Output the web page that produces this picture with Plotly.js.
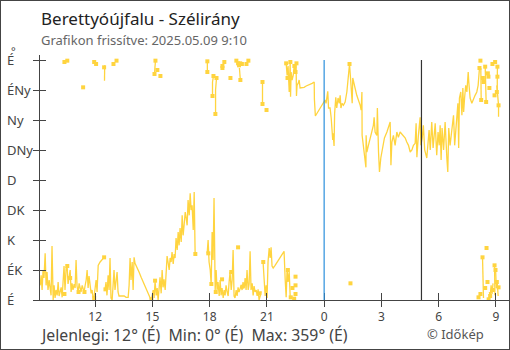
<!DOCTYPE html>
<html>
<head>
<meta charset="utf-8">
<script src="https://cdn.plot.ly/plotly-3.0.1.min.js"></script>
<style>
  html, body { margin: 0; padding: 0; background: #fff; }
  #wrap { position: relative; width: 510px; height: 350px; }
  #chart { position: absolute; left: 0; top: 0; width: 510px; height: 350px; }
  #frame { position: absolute; left: 0; top: 0; width: 510px; height: 350px; box-sizing: border-box; border: 1px solid #444; pointer-events: none; }
</style>
</head>
<body>
<div id="wrap"><div id="chart"></div><div id="frame"></div></div>
<script>
// ---- Data: time in hours relative to midnight (negative = previous day), wind direction in degrees ----
const titleText = 'Berettyóújfalu - Szélirány';
const subtitleText = 'Grafikon frissítve: 2025.05.09 9:10';
const footerText = 'Jelenlegi: 12° (É)  Min: 0° (É)  Max: 359° (É)';
const creditText = '© Időkép';

const xTickVals = [-12, -9, -6, -3, 0, 3, 6, 9];
const xTickText = ['12', '15', '18', '21', '0', '3', '6', '9'];
const yTickVals = [0, 45, 90, 135, 180, 225, 270, 315, 360];
const yTickText = ['É', 'ÉK', 'K', 'DK', 'D', 'DNy', 'Ny', 'ÉNy', 'É'];

const midnightHour = 0;
const sunriseHour = 5.1;

// lower band (near north, 0..)
const lowT1 = [-14.88,-14.83,-14.78,-14.73,-14.68,-14.62,-14.57,-14.52,-14.47,-14.41,-14.36,-14.31,-14.26,-14.20,-14.15,-14.10,-14.05,-13.99,-13.94,-13.89,-13.84,-13.78,-13.73,-13.68,-13.63,-13.58,-13.52,-13.47,-13.42,-13.37,-13.31,-13.26,-13.21,-13.16,-13.10,-13.05,-13.00,-12.95,-12.89,-12.84,-12.79,-12.74,-12.68,-12.63,-12.58,-12.53,-12.47,-12.42,-12.37,-12.32,-12.26,-12.21,-12.16,-12.11,-12.05,-12.00,-11.95,-11.90,-11.84,-11.74,-11.64,-11.53];
const lowD1 = [22,37,15,45,33,70,22,42,15,30,18,7,81,0,22,3,15,7,27,6,12,19,4,30,51,15,48,51,24,33,45,12,25,15,24,18,60,21,12,25,18,12,22,15,12,21,30,45,18,36,21,10,15,3,6,18,30,12,52,57,61,64];

const lowT2 = [-11.48,-11.43,-11.38,-11.32,-11.27,-11.22,-11.17,-11.11,-11.06,-11.01,-10.96,-10.90,-10.85,-10.80,-10.75,-10.69,-10.59,-10.48,-10.38,-10.27,-10.22,-10.17,-10.12,-10.06,-10.01,-9.96,-9.91,-9.80,-9.70,-9.59,-9.49,-9.38,-9.28,-9.17,-9.12,-9.07,-9.01,-8.96,-8.91,-8.86,-8.80,-8.75,-8.70,-8.65,-8.60,-8.54,-8.49,-8.44,-8.39,-8.33,-8.28,-8.23,-8.18,-8.12,-8.07,-8.02,-7.97,-7.91,-7.86,-7.81,-7.76,-7.70,-7.65,-7.60,-7.55,-7.49,-7.44,-7.39,-7.34,-7.28,-7.23,-7.18,-7.13,-7.07,-7.02,-6.97,-6.92,-6.86,-6.81,-6.76];
const lowD2 = [16,27,7,37,15,63,3,0,22,45,15,30,42,12,6,6,6,6,4,4,22,63,30,57,15,64,55,49,42,34,27,19,12,6,1,0,6,15,3,28,7,18,0,22,34,10,45,19,31,15,48,66,57,45,63,57,72,54,69,63,93,75,102,82,108,87,127,97,112,132,123,112,150,127,160,135,142,105,162,69];

const lowT3 = [-6.13,-6.08,-6.03,-5.97,-5.92,-5.87,-5.82,-5.77,-5.71,-5.66,-5.61,-5.56,-5.50,-5.45,-5.40,-5.35,-5.29,-5.24,-5.19,-5.14,-5.08,-5.03,-4.98,-4.93,-4.87,-4.82,-4.77,-4.72,-4.67,-4.61,-4.56,-4.51,-4.46,-4.40,-4.35,-4.30,-4.25,-4.19,-4.14,-4.09,-4.04,-3.98,-3.93,-3.88,-3.83,-3.77,-3.72,-3.67,-3.62,-3.56,-3.51,-3.46,-3.41,-3.35,-3.30];
const lowD3 = [70,90,57,45,24,102,60,153,15,45,15,27,6,30,7,18,3,15,7,22,12,6,27,42,15,30,75,6,3,15,6,19,12,16,22,15,27,18,33,15,45,15,24,73,15,25,7,21,12,15,6,16,0,6,13];

const lowT4 = [-3.20,-3.14,-3.09,-3.04,-2.99,-2.94,-2.88,-2.83,-2.78,-2.73,-2.67,-2.57,-2.46,-2.36,-2.25,-2.15,-2.10,-2.04,-1.99,-1.94,-1.89,-1.83,-1.78];
const lowD4 = [57,15,6,22,3,57,78,63,79,51,48,52,57,61,66,70,73,30,4,48,27,42,6];

const lowT5 = [8.30,8.33,8.35, null, 8.93,8.95, null, 8.99,9.02,9.07,9.12, null, 8.66,8.70,8.75,8.80,8.85];
const lowD5 = [64,42,3, null, 52,7, null, 42,18,27,6, null, 12,4,22,9,25];

// upper band (near north, ..360)
const upT1 = [-11.50,-11.52,-11.51, null, -8.84,-8.87,-8.89, null, -6.12,-6.12, null, -5.80,-5.85,-5.85, null, -5.64,-5.69,-5.69, null, -4.44,-4.42,-4.39, null, -3.23,-3.23];
const upD1 = [352,339,329, null, 359,348,339, null, 358,342, null, 336,327,306, null, 333,315,279, null, 348,340,330, null, 327,294];

const upT2 = [-1.99,-1.94,-1.89,-1.83,-1.78,-1.76,-1.73,-1.68,-1.62,-1.57,-1.52,-1.47,-1.45,-1.42,-1.36,-1.31,-1.26,-1.15,-1.05,-0.94,-0.84,-0.73,-0.63,-0.52,-0.51,-0.46,-0.37,-0.26,-0.16,-0.05,0.05,0.10,0.19,0.23,0.31,0.37,0.40,0.45,0.47,0.52,0.55,0.58,0.61,0.66,0.73,0.79,0.84,0.88,0.94,1.01,1.10,1.19,1.24,1.31,1.33,1.39,1.43,1.47,1.50,1.57,1.62,1.71,1.80,1.89,1.94,1.98,1.99,2.06,2.13,2.19,2.20,2.24,2.32,2.41,2.50,2.58,2.62,2.67,2.76,2.79,2.85,2.90,2.97,3.08,3.16,3.29,3.37,3.46,3.50,3.55,3.63,3.72,3.81,3.89,3.98,4.07,4.16,4.25,4.33,4.42,4.51,4.60,4.68,4.77,4.82,4.86,4.94,5.03,5.07,5.14,5.20,5.27,5.38,5.45,5.50,5.56,5.64,5.71,5.77,5.82,5.90,5.97,6.03,6.08,6.13,6.18,6.26,6.34,6.43,6.48,6.53,6.60,6.68,6.78,6.84,6.92,7.01,7.05,7.09,7.16,7.22,7.27,7.31,7.36,7.42,7.48,7.55,7.58,7.65,7.74,7.83,7.91,8.00,8.07,8.14];
const upD2 = [355,337,351,312,357,305,342,330,337,351,342,355,306,322,325,330,318,318,319,321,322,324,325,327,301,276,280,285,289,294,300,295,313,288,288,273,258,240,250,231,280,289,304,288,303,295,307,288,295,292,297,312,327,345,354,330,318,295,333,322,318,307,300,292,285,312,247,232,213,199,247,222,232,243,252,262,274,252,247,288,222,192,213,232,243,252,259,267,202,237,247,232,252,244,252,249,246,243,237,232,222,225,232,235,265,214,247,274,232,243,262,225,213,240,255,225,267,228,258,265,217,252,232,262,210,258,225,267,213,192,258,232,252,277,232,267,295,228,303,312,277,318,282,303,322,312,342,327,303,295,303,307,312,322,348];

const upT3 = [8.21,8.23, null, 8.44,8.47,8.49, null, 9.05,9.10,9.14,9.14, null, 9.08,9.08,9.07];
const upD3 = [348,300, null, 350,318,297, null, 322,305,292,275, null, 350,335,312];

// isolated readings (drawn as small squares)
const markT = [-13.61,-13.46,-13.31,-12.87,-12.56,-12.05,-11.53,-11.46,-9.05,-8.86,-6.75,-6.07,-5.91,-5.68,-5.35,-4.87,-4.51,-4.28,-3.39,-3.19,-1.90,-1.66,-1.50,-1.50,-1.50,-1.57,-1.75,1.38,8.51,8.30,8.93,8.98,8.56,8.44,8.19,8.09,9.14,9.05,8.84,8.70,8.62,
  -13.61,-13.46,-12.63,-12.05,-11.95,-11.53,-11.04,-10.88,-8.84,-8.74,-8.58,-8.89,-6.12,-6.12,-5.80,-5.85,-5.64,-5.70,-5.23,-5.33,-5.33,-4.91,-4.60,-4.51,-4.46,-4.40,-4.31,-4.39,-4.07,-3.97,-3.23,-3.23,-3.02,-1.99,-1.77,-1.92,-1.56,-1.50,-1.45,1.33,8.14,8.19,8.23,8.32,8.35,8.44,8.49,8.58,8.61,8.66,8.82,8.96,8.93,9.08,9.08,9.05,9.14];
const markD = [9,51,33,12,12,3,64,16,1,29,69,70,24,12,31,42,79,20,10,57,45,18,35,22,9,2,4,25,78,64,52,45,27,18,9,4,19,27,15,6,1,
  357,359,319,357,354,349,354,359,359,345,336,339,358,342,336,306,333,279,357,351,348,333,359,355,352,355,354,330,354,359,327,294,285,355,357,333,351,342,355,354,348,359,300,333,327,350,297,340,335,318,354,357,307,350,335,312,292];

// ---- build traces ----
const GOLD = '#FFD43F';
function joinSegs(list) {
  const x = [], y = [];
  list.forEach((s, i) => {
    if (i > 0) { x.push(null); y.push(null); }
    s[0].forEach((v, j) => { x.push(v); y.push(s[1][j]); });
  });
  return { x, y };
}
const segs = joinSegs([[lowT1, lowD1], [lowT2, lowD2], [lowT3, lowD3], [lowT4, lowD4], [lowT5, lowD5], [upT1, upD1], [upT2, upD2], [upT3, upD3]]);

const traces = [
  { x: segs.x, y: segs.y, type: 'scatter', mode: 'lines', connectgaps: false,
    line: { color: GOLD, width: 1.3 }, hoverinfo: 'skip', showlegend: false },
  { x: markT, y: markD, type: 'scatter', mode: 'markers',
    marker: { color: GOLD, size: 4, symbol: 'square', line: { width: 0 } }, hoverinfo: 'skip', showlegend: false },
  { x: [0], y: [0], xaxis: 'x2', yaxis: 'y2', type: 'scatter', mode: 'markers',
    marker: { opacity: 0 }, hoverinfo: 'skip', showlegend: false }
];

const FONT = 'Noto Sans, Open Sans, sans-serif';
const XR = [-14.89, 9.74];
const YR = [0, 367.5];
const AX = '#444';

const annotations = [];
yTickVals.forEach((v, i) => {
  annotations.push({ xref: 'paper', yref: 'y', x: 0, y: v, xanchor: 'left', yanchor: 'middle', xshift: -35,
    text: yTickText[i], showarrow: false, font: { family: FONT, size: 13, color: '#444' } });
});
annotations.push({ xref: 'paper', yref: 'paper', x: 0, y: 1, xanchor: 'left', yanchor: 'middle', xshift: -31, yshift: 5,
  text: '°', showarrow: false, font: { family: FONT, size: 11, color: '#444' } });
annotations.push({ xref: 'paper', yref: 'paper', x: 0, y: 1, xanchor: 'left', yanchor: 'middle', xshift: -1, yshift: 37,
  text: titleText, showarrow: false, font: { family: FONT, size: 17, color: '#222' } });
annotations.push({ xref: 'paper', yref: 'paper', x: 0, y: 1, xanchor: 'left', yanchor: 'middle', xshift: -1, yshift: 15,
  text: subtitleText, showarrow: false, font: { family: FONT, size: 13, color: '#666' } });
annotations.push({ xref: 'paper', yref: 'paper', x: 0, y: 0, xanchor: 'left', yanchor: 'middle', xshift: -2, yshift: -35,
  text: footerText, showarrow: false, font: { family: FONT, size: 15.8, color: '#444' } });
annotations.push({ xref: 'paper', yref: 'paper', x: 0.819, y: 0, xanchor: 'left', yanchor: 'middle', yshift: -34,
  text: creditText, showarrow: false, font: { family: FONT, size: 13, color: '#555' } });

const shapes = [
  { type: 'line', xref: 'x', yref: 'y', x0: midnightHour, x1: midnightHour, y0: 0, y1: 360, line: { color: '#2a8fdc', width: 1.2 }, layer: 'above' },
  { type: 'line', xref: 'x', yref: 'y', x0: sunriseHour, x1: sunriseHour, y0: 0, y1: 360, line: { color: '#333', width: 1.2 }, layer: 'above' }
];

const layout = {
  width: 510, height: 350,
  margin: { l: 40, r: 0, t: 55, b: 50, pad: 0 },
  paper_bgcolor: '#fff', plot_bgcolor: '#fff',
  showlegend: false,
  font: { family: FONT, color: AX },
  xaxis: { range: XR, tickvals: xTickVals, ticktext: xTickText, ticks: 'outside', ticklen: 6, tickwidth: 1, tickcolor: AX,
    showline: true, linecolor: AX, linewidth: 1, showgrid: false, zeroline: false, fixedrange: true,
    tickfont: { family: FONT, size: 12, color: '#444' } },
  xaxis2: { overlaying: 'x', anchor: 'y', side: 'bottom', range: XR, tickvals: xTickVals, ticks: 'inside', ticklen: 7, tickwidth: 1, tickcolor: AX,
    showticklabels: false, showline: false, showgrid: false, zeroline: false, fixedrange: true },
  yaxis: { range: YR, tickvals: yTickVals, showticklabels: false, ticks: 'outside', ticklen: 6, tickwidth: 1, tickcolor: AX,
    showline: true, linecolor: AX, linewidth: 1, showgrid: false, zeroline: false, fixedrange: true },
  yaxis2: { overlaying: 'y', anchor: 'x', side: 'left', range: YR, tickvals: yTickVals, ticks: 'inside', ticklen: 6, tickwidth: 1, tickcolor: AX,
    showticklabels: false, showline: false, showgrid: false, zeroline: false, fixedrange: true },
  annotations: annotations,
  shapes: shapes
};

Plotly.newPlot('chart', traces, layout, { staticPlot: true, displayModeBar: false });
</script>
</body>
</html>
